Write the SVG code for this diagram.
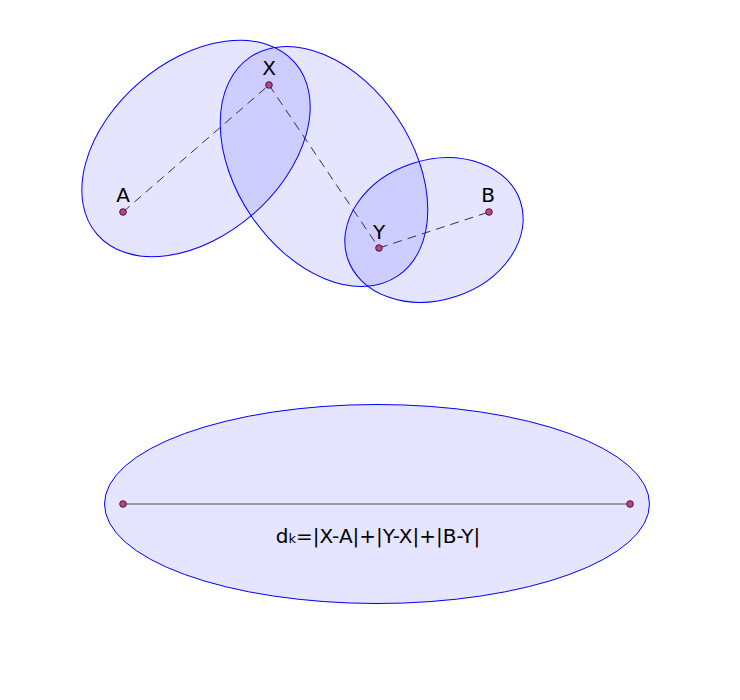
<svg xmlns="http://www.w3.org/2000/svg" width="740" height="700" viewBox="0 0 740 700">
<style>
.ell{fill:#0000ff;fill-opacity:0.1;stroke:#0000ff;stroke-width:1}
.pt{fill:#c0408a;stroke:#402030;stroke-width:1}
.dash{stroke:#333;stroke-width:1;stroke-dasharray:9,6;fill:none}
.lbl{font-family:"DejaVu Sans",sans-serif;font-size:20px;fill:#000;text-anchor:middle}
</style>
<rect width="740" height="700" fill="#fff"/>
<g id="ellipse-AX"><ellipse class="ell" cx="196" cy="148.5" rx="131" ry="87" transform="rotate(-41 196 148.5)"/></g>
<g id="ellipse-XY"><ellipse class="ell" cx="324" cy="166.5" rx="132" ry="88" transform="rotate(56 324 166.5)"/></g>
<g id="ellipse-YB"><ellipse class="ell" cx="434" cy="230" rx="91" ry="70" transform="rotate(-18.1 434 230)"/></g>
<g id="ellipse-bottom"><ellipse class="ell" cx="377" cy="504" rx="272.5" ry="99.5"/></g>
<g id="connectors">
<line class="dash" x1="123" y1="212" x2="269" y2="85"/>
<line class="dash" x1="269" y1="85" x2="379" y2="248"/>
<line class="dash" x1="379" y1="248" x2="489" y2="212"/>
<line x1="123" y1="504" x2="630" y2="504" stroke="#555" stroke-width="1.2"/>
</g>
<g id="node-A"><circle class="pt" cx="123" cy="212" r="3.3"/><text class="lbl" x="123" y="202">A</text></g>
<g id="node-X"><circle class="pt" cx="269" cy="85" r="3.3"/><text class="lbl" x="269" y="75">X</text></g>
<g id="node-Y"><circle class="pt" cx="379" cy="248" r="3.3"/><text class="lbl" x="379" y="239">Y</text></g>
<g id="node-B"><circle class="pt" cx="489" cy="212" r="3.3"/><text class="lbl" x="488" y="202">B</text></g>
<g id="node-P1"><circle class="pt" cx="123" cy="504" r="3.3"/></g>
<g id="node-P2"><circle class="pt" cx="630" cy="504" r="3.3"/></g>
<g id="formula"><text class="lbl" x="378" y="543" font-size="23">d<tspan font-size="13">k</tspan>=|X-A|+|Y-X|+|B-Y|</text></g>
</svg>
